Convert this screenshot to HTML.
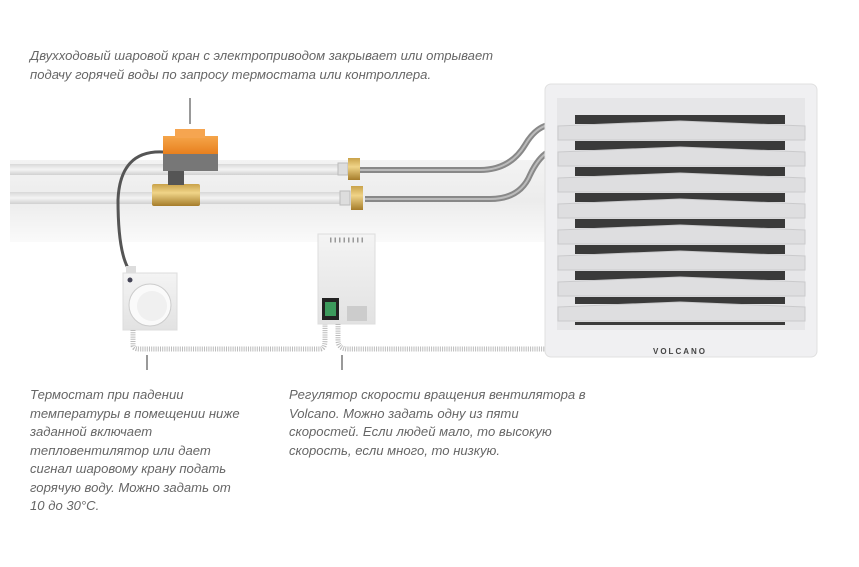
<!DOCTYPE html>
<html><head><meta charset="utf-8"><style>
html,body{margin:0;padding:0;background:#fff;}
.t{position:absolute;font-family:"Liberation Sans","DejaVu Sans",sans-serif;font-style:italic;font-size:13.1px;color:#666;line-height:18.5px;white-space:nowrap;}
</style></head><body>
<div style="position:relative;width:859px;height:567px;overflow:hidden;background:#fff;">
<svg width="859" height="567" style="position:absolute;left:0;top:0">
<defs>
<linearGradient id="band" x1="0" y1="0" x2="0" y2="1"><stop offset="0" stop-color="#f3f3f3"/><stop offset="0.5" stop-color="#ececec"/><stop offset="1" stop-color="#fafafa"/></linearGradient>
<linearGradient id="pipe" x1="0" y1="0" x2="0" y2="1"><stop offset="0" stop-color="#d8d8d8"/><stop offset="0.5" stop-color="#f4f4f4"/><stop offset="1" stop-color="#d0d0d0"/></linearGradient>
<linearGradient id="brass" x1="0" y1="0" x2="0" y2="1"><stop offset="0" stop-color="#c9a24a"/><stop offset="0.4" stop-color="#f0d488"/><stop offset="1" stop-color="#a57c2a"/></linearGradient>
<linearGradient id="orange" x1="0" y1="0" x2="0" y2="1"><stop offset="0" stop-color="#f5a54a"/><stop offset="1" stop-color="#e8801e"/></linearGradient>
<linearGradient id="box" x1="0" y1="0" x2="0" y2="1"><stop offset="0" stop-color="#f4f4f4"/><stop offset="1" stop-color="#e2e2e2"/></linearGradient>
</defs>
<rect x="10" y="160" width="540" height="82" fill="url(#band)"/>
<rect x="10" y="164" width="330" height="11" fill="url(#pipe)"/>
<rect x="10" y="192" width="330" height="12" fill="url(#pipe)"/>
<path d="M360 170 L480 170 Q510 170 525 145 Q535 128 548 125" stroke="#888" stroke-width="6" fill="none"/>
<path d="M360 170 L480 170 Q510 170 525 145 Q535 128 548 125" stroke="#bbb" stroke-width="2" fill="none"/>
<path d="M365 199 L490 199 Q520 199 530 175 Q538 158 548 152" stroke="#888" stroke-width="6" fill="none"/>
<path d="M365 199 L490 199 Q520 199 530 175 Q538 158 548 152" stroke="#bbb" stroke-width="2" fill="none"/>
<rect x="338" y="163" width="10" height="12" fill="#ddd" stroke="#bbb"/>
<rect x="348" y="158" width="12" height="22" fill="url(#brass)"/>
<rect x="340" y="191" width="10" height="14" fill="#ddd" stroke="#bbb"/>
<rect x="351" y="186" width="12" height="24" fill="url(#brass)"/>
<rect x="152" y="184" width="48" height="22" rx="2" fill="url(#brass)"/>
<rect x="168" y="170" width="16" height="15" fill="#555"/>
<rect x="163" y="152" width="55" height="19" fill="#777"/>
<rect x="163" y="136" width="55" height="18" fill="url(#orange)"/>
<rect x="175" y="129" width="30" height="9" fill="#f6a550"/>
<path d="M163 152 Q120 150 118 200 Q118 250 128 268" stroke="#555" stroke-width="3" fill="none"/>
<rect x="126" y="266" width="10" height="8" fill="#ddd"/>
<rect x="123" y="273" width="54" height="57" fill="url(#box)" stroke="#ddd"/>
<circle cx="130" cy="280" r="2.5" fill="#445"/>
<circle cx="150" cy="305" r="21" fill="#fafafa" stroke="#ccc"/>
<circle cx="152" cy="306" r="15" fill="#f0f0f0"/>
<rect x="318" y="234" width="57" height="90" fill="url(#box)" stroke="#ddd"/>
<line x1="330" y1="240" x2="363" y2="240" stroke="#999" stroke-width="5" stroke-dasharray="1.5 3"/>
<rect x="322" y="298" width="17" height="22" fill="#222"/>
<rect x="325" y="302" width="11" height="14" fill="#3c9a5c"/>
<rect x="347" y="306" width="20" height="15" fill="#ccc"/>
<path d="M133 330 L133 345 Q133 349 140 349 L320 349 Q325 349 325 340 L325 324" stroke="#bbb" stroke-width="5" fill="none" stroke-dasharray="1 1.2"/>
<path d="M338 324 L338 340 Q338 349 348 349 L545 349" stroke="#bbb" stroke-width="5" fill="none" stroke-dasharray="1 1.2"/>
<line x1="190" y1="98" x2="190" y2="124" stroke="#333"/>
<line x1="147" y1="355" x2="147" y2="370" stroke="#333"/>
<line x1="342" y1="355" x2="342" y2="370" stroke="#333"/>
<rect x="545" y="84" width="272" height="273" rx="6" fill="#f0f0f2" stroke="#e0e0e0"/>
<rect x="557" y="98" width="248" height="232" fill="#e6e6e8"/>
<g fill="#3a3a3a">
<rect x="575" y="115" width="210" height="9"/>
<rect x="575" y="141" width="210" height="9"/>
<rect x="575" y="167" width="210" height="9"/>
<rect x="575" y="193" width="210" height="9"/>
<rect x="575" y="219" width="210" height="9"/>
<rect x="575" y="245" width="210" height="9"/>
<rect x="575" y="271" width="210" height="9"/>
<rect x="575" y="297" width="210" height="7"/>
<rect x="575" y="322" width="210" height="3"/>
</g>
<g fill="#dedee0" stroke="#cacacc">
<path d="M558 126 L680 121 L805 126 L805 140 L558 140 Z"/>
<path d="M558 152 L680 147 L805 152 L805 166 L558 166 Z"/>
<path d="M558 178 L680 173 L805 178 L805 192 L558 192 Z"/>
<path d="M558 204 L680 199 L805 204 L805 218 L558 218 Z"/>
<path d="M558 230 L680 225 L805 230 L805 244 L558 244 Z"/>
<path d="M558 256 L680 251 L805 256 L805 270 L558 270 Z"/>
<path d="M558 282 L680 277 L805 282 L805 296 L558 296 Z"/>
<path d="M558 307 L680 302 L805 307 L805 321 L558 321 Z"/>
</g>
<text x="680" y="354" font-family="Liberation Sans" font-size="8" font-weight="bold" fill="#444" text-anchor="middle" letter-spacing="2">VOLCANO</text>
</svg>
<div class="t" style="left:30px;top:47px">Двухходовый шаровой кран с электроприводом закрывает или отрывает<br>подачу горячей воды по запросу термостата или контроллера.</div>
<div class="t" style="left:30px;top:386px">Термостат при падении<br>температуры в помещении ниже<br>заданной включает<br>тепловентилятор или дает<br>сигнал шаровому крану подать<br>горячую воду. Можно задать от<br>10 до 30°C.</div>
<div class="t" style="left:289px;top:386px">Регулятор скорости вращения вентилятора в<br>Volcano. Можно задать одну из пяти<br>скоростей. Если людей мало, то высокую<br>скорость, если много, то низкую.</div>
</div>
</body></html>
